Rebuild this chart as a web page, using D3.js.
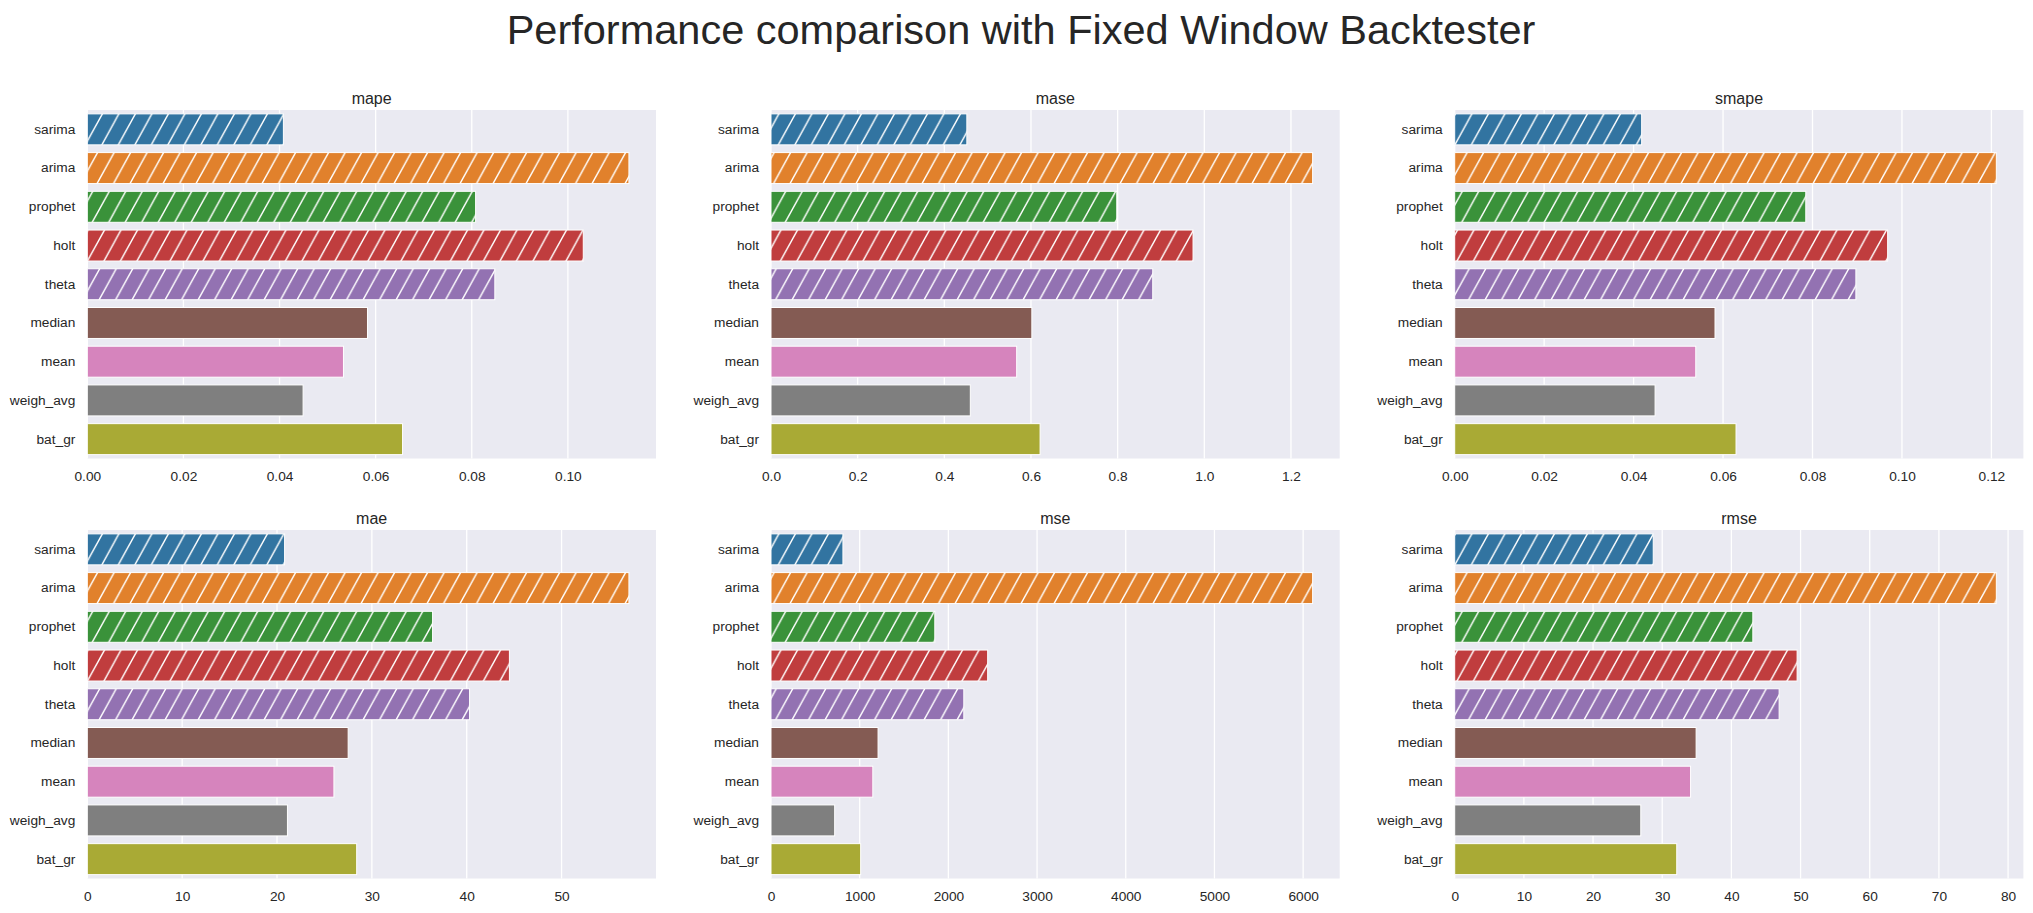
<!DOCTYPE html>
<html>
<head>
<meta charset="utf-8">
<script src="https://cdn.jsdelivr.net/npm/d3@7"></script>
<style>
  html, body { margin: 0; padding: 0; background: #ffffff; }
  svg { display: block; }
  text { font-family: "Liberation Sans", Arial, sans-serif; fill: #262626; }
</style>
</head>
<body>
<svg id="chart" width="2033" height="913"></svg>
<script>
// ---- data ----
const suptitle = "Performance comparison with Fixed Window Backtester";
const categories = ["sarima", "arima", "prophet", "holt", "theta", "median", "mean", "weigh_avg", "bat_gr"];
const hatchedModels = ["sarima", "arima", "prophet", "holt", "theta"];
const colors = ["#3274a1", "#e1812c", "#3a923a", "#c03d3e", "#9372b2", "#845b53", "#d684bd", "#7f7f7f", "#a9aa35"];
const metrics = ["mape", "mase", "smape", "mae", "mse", "rmse"];

const mape  = [0.0408, 0.1127, 0.0808, 0.1032, 0.0848, 0.0583, 0.0533, 0.0449, 0.0656];
const mase  = [0.452, 1.250, 0.798, 0.974, 0.881, 0.602, 0.567, 0.460, 0.621];
const smape = [0.0418, 0.1211, 0.0785, 0.0968, 0.0897, 0.0582, 0.0539, 0.0448, 0.0629];
const mae   = [20.8, 57.1, 36.4, 44.5, 40.3, 27.5, 26.0, 21.1, 28.4];
const mse   = [811, 6107, 1847, 2443, 2174, 1207, 1148, 718, 1011];
const rmse  = [28.7, 78.3, 43.1, 49.5, 46.9, 34.9, 34.1, 26.9, 32.1];

const mapeTicks  = [0, 0.02, 0.04, 0.06, 0.08, 0.10];
const maseTicks  = [0, 0.2, 0.4, 0.6, 0.8, 1.0, 1.2];
const smapeTicks = [0, 0.02, 0.04, 0.06, 0.08, 0.10, 0.12];
const maeTicks   = [0, 10, 20, 30, 40, 50];
const mseTicks   = [0, 1000, 2000, 3000, 4000, 5000, 6000];
const rmseTicks  = [0, 10, 20, 30, 40, 50, 60, 70, 80];

const seriesValues = [mape, mase, smape, mae, mse, rmse];
const seriesTicks = [mapeTicks, maseTicks, smapeTicks, maeTicks, mseTicks, rmseTicks];
const tickFormats = [".2f", ".1f", ".2f", "d", "d", "d"];

// ---- layout ----
const panelLefts = [87.3, 771, 1454.7];
const panelWidth = 568.7;
const panelTops = [110, 530];
const panelHeight = 348.5;

const svg = d3.select("#chart");

// hatch pattern (forward slashes)
const hw = 16.5, hh = 30;
const defs = svg.append("defs");
defs.append("pattern")
  .attr("id", "hatch")
  .attr("patternUnits", "userSpaceOnUse")
  .attr("width", hw).attr("height", hh)
  .append("path")
  .attr("d", `M0,${hh} L${hw},0 M${-hw/4},${hh/4} L${hw/4},${-hh/4} M${hw*0.75},${hh*1.25} L${hw*1.25},${hh*0.75}`)
  .attr("stroke", "#ffffff")
  .attr("stroke-width", 1.4)
  .attr("fill", "none");

svg.append("text")
  .attr("x", 1021)
  .attr("y", 44)
  .attr("text-anchor", "middle")
  .style("font-size", "41.5px")
  .text(suptitle);

metrics.forEach((m, i) => {
  const row = Math.floor(i / 3), col = i % 3;
  const left = panelLefts[col], top = panelTops[row];
  const vals = seriesValues[i];
  const ticks = seriesTicks[i];
  const xMax = d3.max(vals) * 1.05;

  const x = d3.scaleLinear().domain([0, xMax]).range([left, left + panelWidth]);
  const y = d3.scaleBand().domain(categories).range([top, top + panelHeight])
    .paddingInner(0.2).paddingOuter(0.1);

  const g = svg.append("g");

  g.append("rect")
    .attr("x", left).attr("y", top)
    .attr("width", panelWidth).attr("height", panelHeight)
    .attr("fill", "#eaeaf2");

  // grid
  g.append("g").selectAll("line").data(ticks).join("line")
    .attr("x1", d => x(d)).attr("x2", d => x(d))
    .attr("y1", top).attr("y2", top + panelHeight)
    .attr("stroke", "#ffffff").attr("stroke-width", 1.3);

  const data = categories.map((c, k) => ({ cat: c, val: vals[k], color: colors[k] }));

  const bars = g.append("g").selectAll("g").data(data).join("g");
  bars.append("rect")
    .attr("x", x(0)).attr("y", d => y(d.cat))
    .attr("width", d => x(d.val) - x(0)).attr("height", y.bandwidth())
    .attr("fill", d => d.color);
  bars.filter(d => hatchedModels.includes(d.cat)).append("rect")
    .attr("x", x(0)).attr("y", d => y(d.cat))
    .attr("width", d => x(d.val) - x(0)).attr("height", y.bandwidth())
    .attr("fill", "url(#hatch)");
  bars.append("rect")
    .attr("x", x(0)).attr("y", d => y(d.cat))
    .attr("width", d => x(d.val) - x(0)).attr("height", y.bandwidth())
    .attr("fill", "none")
    .attr("stroke", "#ffffff").attr("stroke-width", 1);

  // x axis
  const xa = g.append("g")
    .attr("transform", `translate(0,${top + panelHeight})`)
    .call(d3.axisBottom(x).tickValues(ticks).tickSize(0).tickPadding(12.8).tickFormat(d3.format(tickFormats[i])));
  xa.select(".domain").remove();
  xa.selectAll("text").style("font-size", "13.7px").attr("fill", "#262626")
    .style("font-family", "'Liberation Sans', Arial, sans-serif");

  // y axis
  const ya = g.append("g")
    .attr("transform", `translate(${left},0)`)
    .call(d3.axisLeft(y).tickSize(0).tickPadding(12));
  ya.select(".domain").remove();
  ya.selectAll("text").style("font-size", "13.7px").attr("fill", "#262626")
    .style("font-family", "'Liberation Sans', Arial, sans-serif");

  // title
  g.append("text")
    .attr("x", left + panelWidth / 2)
    .attr("y", top - 6)
    .attr("text-anchor", "middle")
    .style("font-size", "16px")
    .text(m);
});
</script>
</body>
</html>
